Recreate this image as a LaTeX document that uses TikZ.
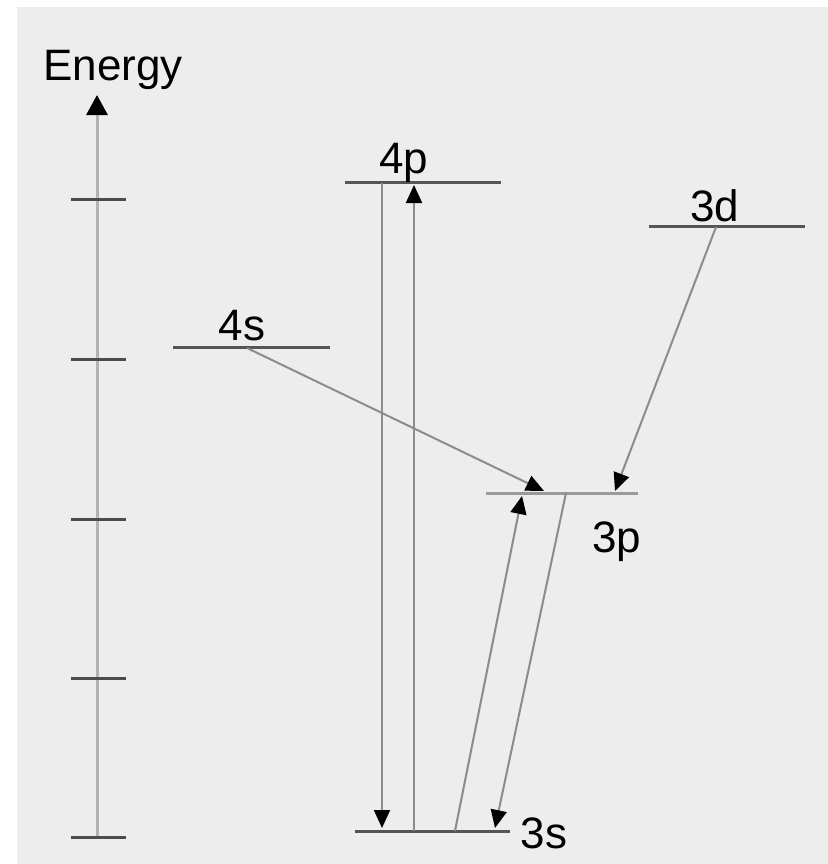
\documentclass[tikz,border=0pt]{standalone}
\usepackage{fontspec}
\setmainfont{Liberation Sans}
\usetikzlibrary{arrows.meta}
\definecolor{bggray}{HTML}{EDEDED}
\definecolor{lvgray}{HTML}{555555}
\definecolor{lvlight}{HTML}{9A9A9A}
\tikzset{
  lvline/.style={draw=lvgray, line width=1.5pt},
  lvlabel/.style={anchor=base, inner sep=0pt, font=\fontsize{22}{26}\selectfont},
  trans/.style={draw=black!45, line width=1pt, -{Triangle[length=9pt,width=8pt,color=black]}},
  axisline/.style={draw=black!30, line width=1.5pt, -{Triangle[length=10pt,width=10.5pt,color=black]}},
  axtick/.style={draw=black!70, line width=1.5pt}
}

\begin{document}
\begin{tikzpicture}[x=0.5pt, y=-0.5pt]
\useasboundingbox (0,0) rectangle (828,864);
\fill[white] (0,0) rectangle (828,864);
\fill[bggray] (17,7) rectangle (828,864);

% energy axis
\coordinate (axbot) at (97,837);
\coordinate (axtop) at (97,95);
\draw[axisline] (axbot) -- (axtop);
\foreach \ty in {199,359,519,678,837}
  \draw[axtick] (71,\ty) -- (126,\ty);
\node[lvlabel] (energy) at (113,80) {Energy};

% levels
\draw[lvline] (345,182) -- (501,182);
\draw[lvline] (649,226) -- (805,226);
\draw[lvline] (173,347) -- (330,347);
\draw[lvline, draw=lvlight] (486,493) -- (638,493);
\draw[lvline] (355,831) -- (510,831);
\node[lvlabel] (p4) at (404,173) {4p};
\node[lvlabel] (d3) at (715,221) {3d};
\node[lvlabel] (s4) at (242,340) {4s};
\node[lvlabel] (p3) at (617,552) {3p};
\node[lvlabel] (s3) at (544,848) {3s};

% transition end points
\coordinate (p4a) at (382,183);
\coordinate (s3a) at (382,828);
\coordinate (s3b) at (414,831);
\coordinate (p4b) at (414,185);
\coordinate (s4a) at (247,348);
\coordinate (p3a) at (544,491);
\coordinate (d3a) at (716,227);
\coordinate (p3b) at (615,491);
\coordinate (s3c) at (455,831);
\coordinate (p3c) at (522,496);
\coordinate (p3d) at (566,493);
\coordinate (s3d) at (495,828);

% transitions
\draw[trans] (p4a) -- (s3a);
\draw[trans] (s3b) -- (p4b);
\draw[trans] (s4a) -- (p3a);
\draw[trans] (d3a) -- (p3b);
\draw[trans] (s3c) -- (p3c);
\draw[trans] (p3d) -- (s3d);
\end{tikzpicture}
\end{document}
